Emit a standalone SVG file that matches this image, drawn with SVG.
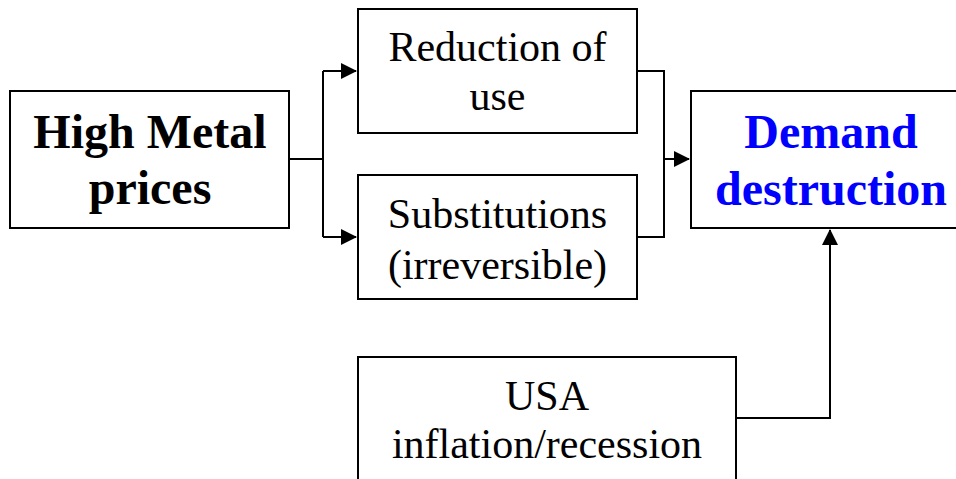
<svg xmlns="http://www.w3.org/2000/svg" width="956" height="479" viewBox="0 0 956 479">
<defs>
<marker id="arr" markerWidth="8" markerHeight="8" refX="7.5" refY="4" orient="auto" markerUnits="strokeWidth">
<path d="M0,0 L8,4 L0,8 Z" fill="#000"/>
</marker>
<style>
.box{fill:#fff;stroke:#000;stroke-width:2}
.con{fill:none;stroke:#000;stroke-width:2}
.t{font-family:"Liberation Serif","Times New Roman",serif;font-size:42px;text-anchor:middle;fill:#000}
.b{font-family:"Liberation Serif","Times New Roman",serif;font-size:48px;font-weight:bold;text-anchor:middle}
</style>
</defs>
<rect width="956" height="479" fill="#fff"/>
<g id="connectors">
<path class="con" d="M289,159 H323 M323,71 V237"/>
<path class="con" d="M323,71 H356" marker-end="url(#arr)"/>
<path class="con" d="M323,237 H356" marker-end="url(#arr)"/>
<path class="con" d="M637,71 H664 V237 H637"/>
<path class="con" d="M664,159 H689" marker-end="url(#arr)"/>
<path class="con" d="M736,418 H830 V230" marker-end="url(#arr)"/>
</g>
<g id="high-metal-prices">
<rect class="box" x="10" y="91" width="279" height="137"/>
<text class="b" x="150" y="148" fill="#000">High Metal</text>
<text class="b" x="150" y="204" fill="#000">prices</text>
</g>
<g id="reduction-of-use">
<rect class="box" x="358" y="9" width="279" height="124"/>
<text class="t" x="497.5" y="61">Reduction of</text>
<text class="t" x="497.5" y="110">use</text>
</g>
<g id="substitutions">
<rect class="box" x="358" y="175" width="279" height="124"/>
<text class="t" x="497.5" y="228">Substitutions</text>
<text class="t" x="497.5" y="279">(irreversible)</text>
</g>
<g id="demand-destruction">
<rect class="box" x="691" y="91" width="280" height="137"/>
<text class="b" x="831" y="148" fill="#0000FF">Demand</text>
<text class="b" x="831" y="205" fill="#0000FF">destruction</text>
</g>
<g id="usa">
<rect class="box" x="358" y="357" width="378" height="140"/>
<text class="t" x="547" y="410">USA</text>
<text class="t" x="547" y="458">inflation/recession</text>
</g>
</svg>
